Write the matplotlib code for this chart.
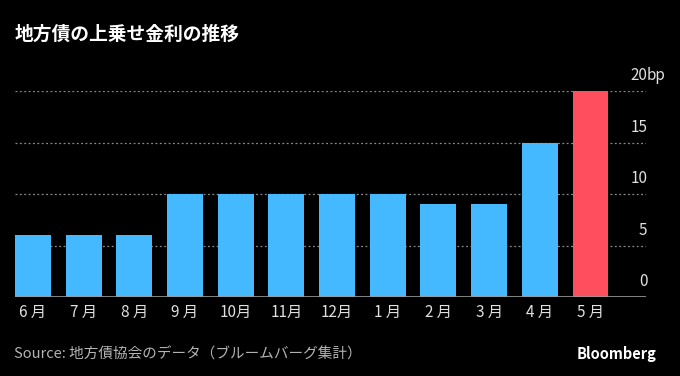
import matplotlib
matplotlib.use("Agg")
import matplotlib.pyplot as plt
import matplotlib.transforms as mtransforms

plt.rcParams["font.family"] = ["Noto Sans CJK JP", "DejaVu Sans"]

# data
months = ["6 月", "7 月", "8 月", "9 月", "10月", "11月", "12月",
          "1 月", "2 月", "3 月", "4 月", "5 月"]
spread_bp = [6, 6, 6, 10, 10, 10, 10, 10, 9, 9, 15, 20]
y_ticks = [0, 5, 10, 15, 20]

blue = "#45b9ff"
red = "#ff4f5e"
colors = [blue] * (len(months) - 1) + [red]

fig = plt.figure(figsize=(6.8, 3.76), dpi=100, facecolor="black")
ax = fig.add_axes([15 / 680, 1 - 297 / 376, 631 / 680, 206 / 376])
ax.set_facecolor("black")

x = list(range(len(months)))
ax.bar(x, spread_bp, width=0.71, color=colors, zorder=2)
ax.set_xlim(-0.355, 12.095)
ax.set_ylim(0, 20)

# gridlines
for v in y_ticks[1:]:
    ax.axhline(v, color="#8a8a8a", lw=0.9, ls=(0, (1.5, 2)), zorder=1)
ax.axhline(0, color="#9a9a9a", lw=1.2, zorder=3)

for s in ax.spines.values():
    s.set_visible(False)
ax.set_yticks([])
ax.set_xticks(x)
ax.set_xticklabels(months, color="#e0e0e0", fontsize=11)
ax.tick_params(axis="x", length=0, pad=5)

# right side labels above the gridlines
trans = mtransforms.blended_transform_factory(ax.transAxes, ax.transData)
for v in y_ticks:
    ax.annotate(str(v), xy=(1, v), xycoords=trans, xytext=(1, 5),
                textcoords="offset points", ha="right", va="bottom",
                color="#e0e0e0", fontsize=11)
ax.annotate("bp", xy=(1, 20), xycoords=trans, xytext=(0.2, 5),
            textcoords="offset points", ha="left", va="bottom",
            color="#e0e0e0", fontsize=11)

fig.text(15 / 680, 1 - 34 / 376, "地方債の上乗せ金利の推移", color="white",
         fontsize=13.5, fontweight="bold", va="center", ha="left")
fig.text(14 / 680, 1 - 354 / 376, "Source: 地方債協会のデータ（ブルームバーグ集計）",
         color="#b4b4b4", fontsize=10.5, va="center", ha="left")
fig.text(657 / 680, 1 - 354 / 376, "Bloomberg", color="white",
         fontsize=10.5, fontweight="bold", va="center", ha="right")

fig.savefig("out.png", dpi=100, facecolor="black")
